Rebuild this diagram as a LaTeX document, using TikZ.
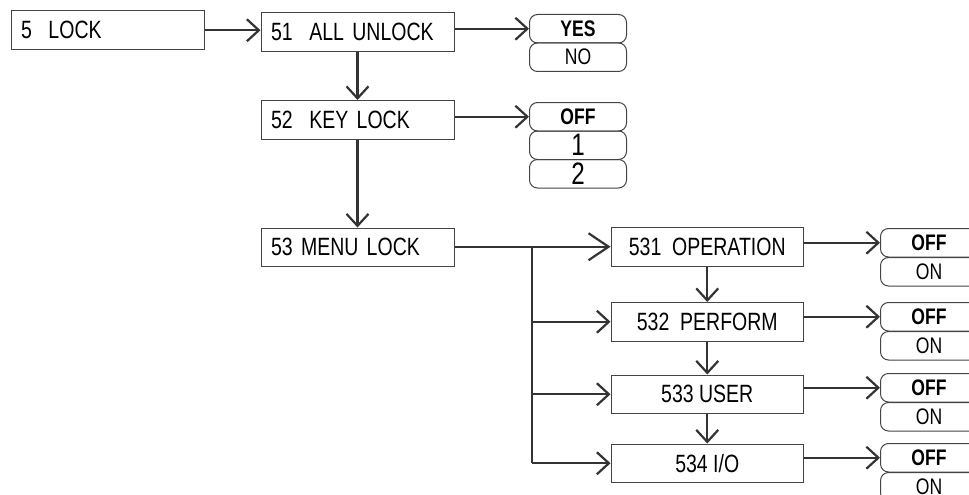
\documentclass[tikz,border=0pt]{standalone}
\usepackage{fontspec}
\setmainfont{Liberation Sans}[FakeStretch=0.78]
\usetikzlibrary{arrows.meta}
\definecolor{ln}{HTML}{333333}
\definecolor{bd}{HTML}{444444}
\begin{document}
\begin{tikzpicture}[x=1pt,y=-1pt,
  boxl/.style={draw=bd, line width=1pt, minimum height=38.5pt, text width=173pt, inner xsep=10pt, inner ysep=0pt, align=left, anchor=north west, font=\fontsize{25}{25}\selectfont},
  boxc/.style={draw=bd, line width=1pt, minimum height=38.5pt, minimum width=192.5pt, inner sep=0pt, anchor=north west, font=\fontsize{25}{25}\selectfont},
  pill/.style={draw=bd, line width=1pt, rounded corners=8pt, minimum width=97pt, minimum height=28.5pt, inner sep=0pt, anchor=north west, font=\fontsize{22.5}{22.5}\selectfont},
  pillb/.style={pill, font=\fontsize{22.5}{22.5}\selectfont\bfseries},
  pilld/.style={pill, font=\fontsize{31}{31}\selectfont},
  arr/.style={draw=ln, line width=2.2pt, -{Straight Barb[length=12pt,width=22pt,line width=2.2pt]}},
  arrb/.style={draw=ln, line width=2.2pt, -{Straight Barb[length=20pt,width=27pt,line width=2.2pt]}},
  ln/.style={draw=ln, line width=2.2pt}]
\useasboundingbox (0,0) rectangle (969,495);
% left column
\node[boxl] (b5) at (10.5,10.5) {5\ \ LOCK};
\node[boxl] (b51) at (260.5,12.5) {51\ \ ALL UNLOCK};
\node[boxl] (b52) at (260.5,100) {52\ \ KEY LOCK};
\node[boxl] (b53) at (260.5,227.5) {53 MENU LOCK};
% pills
\node[pillb] (yes) at (529,14) {YES};
\node[pill] (no) at (529,42.5) {NO};
\node[pillb] (koff) at (529,102) {OFF};
\node[pilld] (k1) at (529,130.5) {1};
\node[pilld] (k2) at (529,159) {2};
% sub boxes
\node[boxc] (b531) at (610.5,227) {531\ \ OPERATION};
\node[boxc] (b532) at (610.5,302) {532\ \ PERFORM};
\node[boxc] (b533) at (610.5,374.5) {533 USER};
\node[boxc] (b534) at (610.5,443.5) {534 I/O};
% right pills
\node[pillb] (o1) at (880,228) {OFF};
\node[pill] (n1) at (880,257) {ON};
\node[pillb] (o2) at (880,302) {OFF};
\node[pill] (n2) at (880,331) {ON};
\node[pillb] (o3) at (880,373) {OFF};
\node[pill] (n3) at (880,402) {ON};
\node[pillb] (o4) at (880,443) {OFF};
\node[pill] (n4) at (880,472) {ON};
% connectors
\draw[arr] (b5.east) -- (b51.west |- b5.east);
\draw[arr] (b51.east |- yes.west) -- (yes.west);
\draw[arr] (b51.south) -- (b52.north);
\draw[arr] (b52.east |- koff.west) -- (koff.west);
\draw[arr] (b52.south) -- (b53.north);
\coordinate (br) at (532,246);
\draw[arrb] (b53.east |- b531.west) -- (b531.west);
\draw[ln] (br) -- (br |- b534.west);
\draw[arr] (br |- b532.west) -- (b532.west);
\draw[arr] (br |- b533.west) -- (b533.west);
\draw[arr] (br |- b534.west) -- (b534.west);
\draw[arr] (b531.south) -- (b532.north);
\draw[arr] (b532.south) -- (b533.north);
\draw[arr] (b533.south) -- (b534.north);
\draw[arr] (b531.east |- o1.west) -- (o1.west);
\draw[arr] (b532.east |- o2.west) -- (o2.west);
\draw[arr] (b533.east |- o3.west) -- (o3.west);
\draw[arr] (b534.east |- o4.west) -- (o4.west);
\end{tikzpicture}
\end{document}
